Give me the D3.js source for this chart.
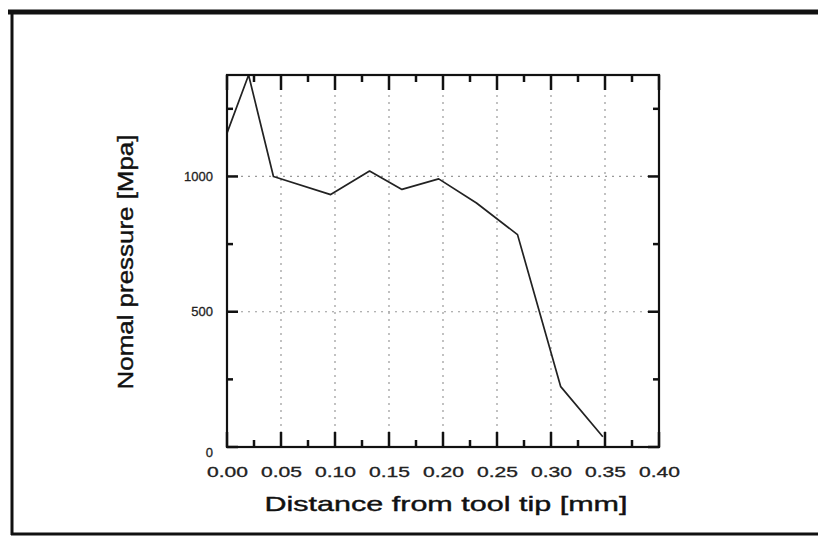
<!DOCTYPE html>
<html>
<head>
<meta charset="utf-8">
<script src="https://cdn.jsdelivr.net/npm/d3@7"></script>
<style>
  body { margin: 0; background: #fff; }
  svg { display: block; font-family: "Liberation Sans", Arial, sans-serif; }
</style>
</head>
<body>
<div id="chart"></div>
<script>
// distance from tool tip [mm] and normal pressure [MPa]
let distance = [0, 0.02, 0.043, 0.096, 0.132, 0.162, 0.196, 0.231, 0.269, 0.309, 0.348];
let pressure = [1160, 1375, 1000, 933, 1020, 952, 991, 902, 785, 223, 38];

let xTicks = [0, 0.05, 0.10, 0.15, 0.20, 0.25, 0.30, 0.35, 0.40];
let xTickLabels = ["0.00", "0.05", "0.10", "0.15", "0.20", "0.25", "0.30", "0.35", "0.40"];
let xMinor = [0.025, 0.075, 0.125, 0.175, 0.225, 0.275, 0.325, 0.375];
let yTicks = [0, 500, 1000];
let yMinor = [250, 750, 1250];

let W = 818, H = 537;
let margin = {top: 75, right: 160, bottom: 90, left: 227};

let svg = d3.select("#chart").append("svg").attr("width", W).attr("height", H);

// scanned page frame
svg.append("line").attr("x1", 8).attr("x2", W).attr("y1", 12).attr("y2", 12)
    .attr("stroke", "#111").attr("stroke-width", 5);
svg.append("line").attr("x1", 12).attr("x2", 12).attr("y1", 10).attr("y2", 535)
    .attr("stroke", "#111").attr("stroke-width", 3);
svg.append("line").attr("x1", 11).attr("x2", W).attr("y1", 534).attr("y2", 534)
    .attr("stroke", "#111").attr("stroke-width", 3);

let x = d3.scaleLinear().domain([0, 0.4]).range([margin.left, W - margin.right + 1]);
let y = d3.scaleLinear().domain([0, 1375]).range([H - margin.bottom, margin.top]);

let g = svg.append("g");
let yBot = y.range()[0], yTop = y.range()[1], xLeft = x.range()[0], xRight = x.range()[1];

// dotted grid
g.selectAll(".vgrid").data(xTicks.slice(1, -1)).enter().append("line")
    .attr("x1", d => x(d)).attr("x2", d => x(d))
    .attr("y1", yBot).attr("y2", yTop)
    .attr("stroke", "#999").attr("stroke-width", 1.2).attr("stroke-dasharray", "2,5");
g.selectAll(".hgrid").data(yTicks.slice(1)).enter().append("line")
    .attr("x1", xLeft).attr("x2", xRight)
    .attr("y1", d => y(d)).attr("y2", d => y(d))
    .attr("stroke", "#999").attr("stroke-width", 1.2).attr("stroke-dasharray", "2,5");

// the curve
let line = d3.line().x(d => x(d[0])).y(d => y(d[1]));
g.append("path")
    .datum(d3.zip(distance, pressure))
    .attr("fill", "none").attr("stroke", "#222").attr("stroke-width", 1.7)
    .attr("stroke-linejoin", "round")
    .attr("d", line);

// inward tick marks on all four sides
function xTickMarks(vals, len) {
    [[yBot, -1], [yTop, 1]].forEach(function(s) {
        g.append("g").selectAll("line").data(vals).enter().append("line")
            .attr("x1", d => x(d)).attr("x2", d => x(d))
            .attr("y1", s[0]).attr("y2", s[0] + s[1] * len)
            .attr("stroke", "#111").attr("stroke-width", 2.5);
    });
}
function yTickMarks(vals, len) {
    [[xLeft, 1], [xRight, -1]].forEach(function(s) {
        g.append("g").selectAll("line").data(vals).enter().append("line")
            .attr("y1", d => y(d)).attr("y2", d => y(d))
            .attr("x1", s[0]).attr("x2", s[0] + s[1] * len)
            .attr("stroke", "#111").attr("stroke-width", 2.5);
    });
}
xTickMarks(xTicks, 15);
xTickMarks(xMinor, 7);
yTickMarks(yTicks, 11);
yTickMarks(yMinor, 6);

// tick labels through d3 axes
let xAxis = g.append("g").attr("transform", "translate(0," + yBot + ")")
    .call(d3.axisBottom(x).tickValues(xTicks).tickFormat((d, i) => xTickLabels[i])
        .tickSize(0).tickPadding(20));
xAxis.select(".domain").remove();
xAxis.selectAll("text").attr("font-size", 14).attr("fill", "#222")
    .attr("stroke", "#222").attr("stroke-width", 0.3)
    .attr("textLength", 41).attr("lengthAdjust", "spacingAndGlyphs");

let yAxis = g.append("g").attr("transform", "translate(" + xLeft + ",0)")
    .call(d3.axisLeft(y).tickValues(yTicks).tickFormat(d3.format("d"))
        .tickSize(0).tickPadding(14));
yAxis.select(".domain").remove();
yAxis.selectAll("text").attr("font-size", 13).attr("fill", "#222")
    .attr("stroke", "#222").attr("stroke-width", 0.3);
yAxis.selectAll(".tick").filter(d => d === 0).select("text").attr("dy", "0.7em");

// plot frame
g.append("rect").attr("x", xLeft).attr("y", yTop)
    .attr("width", xRight - xLeft).attr("height", yBot - yTop)
    .attr("fill", "none").attr("stroke", "#111").attr("stroke-width", 2.2);

// axis titles
svg.append("text")
    .attr("x", (xLeft + xRight) / 2 + 3).attr("y", 511)
    .attr("text-anchor", "middle").attr("font-size", 21).attr("fill", "#111")
    .attr("stroke", "#111").attr("stroke-width", 0.4)
    .attr("textLength", 363).attr("lengthAdjust", "spacingAndGlyphs")
    .text("Distance from tool tip [mm]");

svg.append("text")
    .attr("transform", "translate(133,262) rotate(-90)")
    .attr("text-anchor", "middle").attr("font-size", 22).attr("fill", "#111")
    .attr("stroke", "#111").attr("stroke-width", 0.4)
    .attr("textLength", 255).attr("lengthAdjust", "spacingAndGlyphs")
    .text("Nomal pressure [Mpa]");
</script>
</body>
</html>
